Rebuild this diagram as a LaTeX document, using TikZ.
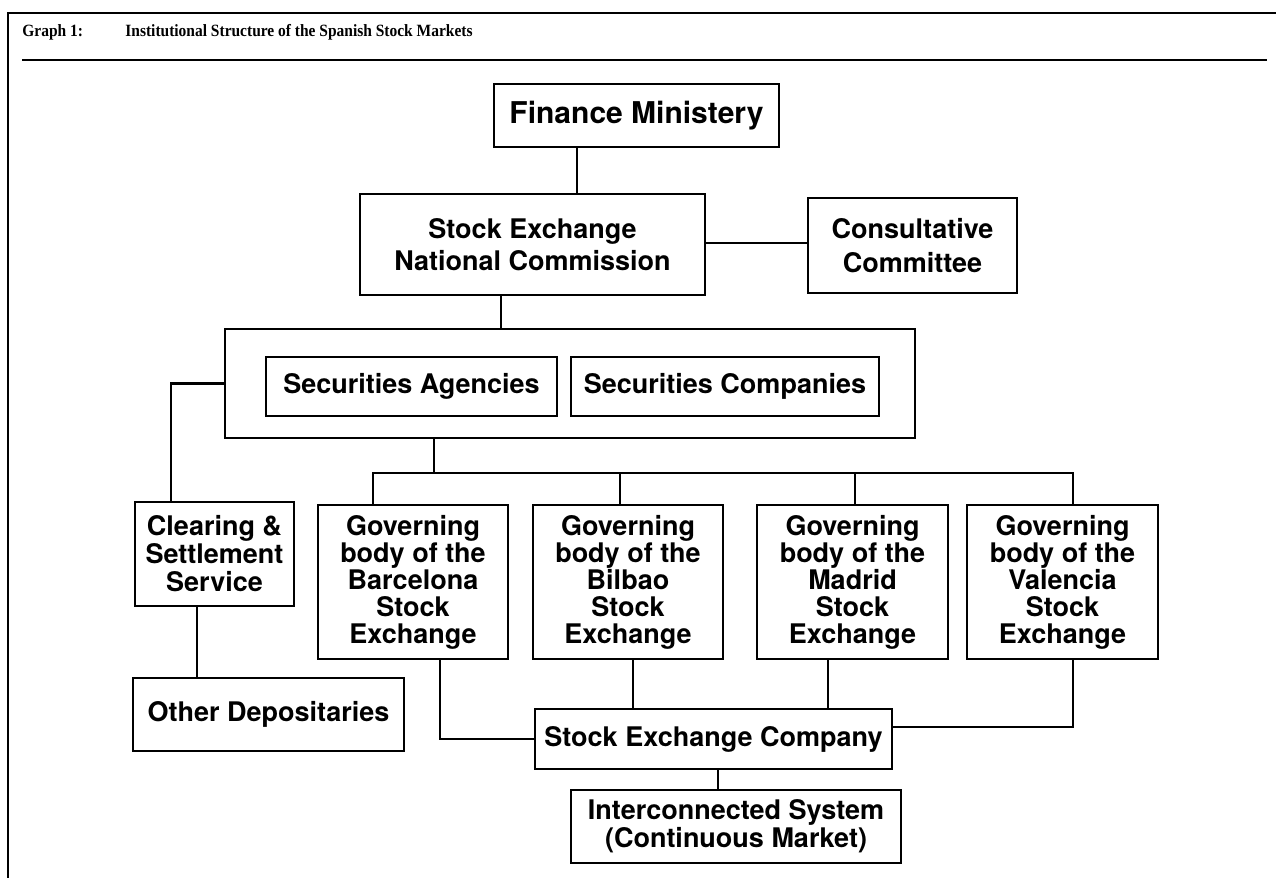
\documentclass[tikz,border=0pt]{standalone}
\usepackage{fontspec}
\setmainfont{Liberation Serif}
\setsansfont{TeX Gyre Heros}
\begin{document}
\begin{tikzpicture}[x=0.5pt,y=-0.5pt,
  box/.style={draw, line width=1.3pt, align=center, inner sep=0pt,
    font=\sffamily\bfseries\fontsize{13.5}{13.5}\selectfont},
  link/.style={line width=1.2pt}]
\useasboundingbox (0,0) rectangle (1276,878);
\path[draw,line width=1pt] (8,878) -- (8,13) -- (1276,13);
\path[draw,line width=1pt] (22,60) -- (1267,60);
\node[anchor=base west, inner sep=0pt, font=\bfseries\fontsize{8.6}{10}\selectfont] (gno) at (22,36) {\scalebox{0.9}[1]{Graph 1:}};
\node[anchor=base west, inner sep=0pt, font=\bfseries\fontsize{8.6}{10}\selectfont] (gtitle) at (125,36) {\scalebox{0.9}[1]{Institutional Structure of the Spanish Stock Markets}};

\node[box, minimum width=142.5pt, minimum height=31.5pt, font=\sffamily\bfseries\fontsize{15}{15}\selectfont] (fin) at (636.5,115.5) {Finance Ministery};
\node[box, minimum width=172.5pt, minimum height=50.5pt, font=\sffamily\bfseries\fontsize{13.5}{16}\selectfont] (cnmv) at (532.5,244.5) {Stock Exchange\\National Commission};
\node[box, minimum width=104.5pt, minimum height=47.5pt, font=\sffamily\bfseries\fontsize{13.5}{17}\selectfont] (cons) at (912.5,245.5) {Consultative\\Committee};
\node[box, minimum width=345pt, minimum height=54.5pt] (firms) at (570,383.5) {};
\node[box, minimum width=145.5pt, minimum height=29.5pt] (agen) at (411.5,386.5) {Securities Agencies};
\node[box, minimum width=154pt, minimum height=29.5pt] (comp) at (725,386.5) {Securities Companies};
\node[box, minimum width=79.5pt, minimum height=52pt, font=\sffamily\bfseries\fontsize{13.5}{14}\selectfont] (clr) at (214.5,554) {Clearing \&\\Settlement\\Service};
\node[box, minimum width=135.5pt, minimum height=36.5pt] (dep) at (268.5,714.5) {Other Depositaries};
\node[box, minimum width=95pt, minimum height=77pt] (bcn) at (413,582) {Governing\\body of the\\Barcelona\\Stock\\Exchange};
\node[box, minimum width=95pt, minimum height=77pt] (bio) at (628,582) {Governing\\body of the\\Bilbao\\Stock\\Exchange};
\node[box, minimum width=95.5pt, minimum height=77pt] (mad) at (852.5,582) {Governing\\body of the\\Madrid\\Stock\\Exchange};
\node[box, minimum width=95.5pt, minimum height=77pt] (vlc) at (1062.5,582) {Governing\\body of the\\Valencia\\Stock\\Exchange};
\node[box, minimum width=178.5pt, minimum height=30pt] (sbc) at (713.5,739) {Stock Exchange Company};
\node[box, minimum width=165pt, minimum height=36.5pt, font=\sffamily\bfseries\fontsize{13.5}{12.5}\selectfont] (sib) at (736,826.5) {Interconnected System\\(Continuous Market)};
\coordinate (bus) at (434,473);

\path[draw,link] ([xshift=-29.75pt]fin.south) -- ([xshift=-29.75pt]fin.south |- cnmv.north);
\path[draw,link] ([yshift=0.75pt]cnmv.east) -- ([yshift=0.75pt]cnmv.east -| cons.west);
\path[draw,link] ([xshift=-15.75pt]cnmv.south) -- ([xshift=-15.75pt]cnmv.south |- firms.north);
\path[draw,link] (firms.west) -| ([xshift=-21.75pt]clr.north);
\path[draw,link] ([xshift=-8.75pt]clr.south) -- ([xshift=-8.75pt]clr.south |- dep.north);
\path[draw,link] (firms.south -| bus) -- (bus);
\path[draw,link] (bus) -| ([xshift=-20pt]bcn.north);
\path[draw,link] (bus) -| ([xshift=-4pt]bio.north);
\path[draw,link] (bus) -| ([xshift=1.25pt]mad.north);
\path[draw,link] (bus) -| ([xshift=5.25pt]vlc.north);
\path[draw,link] ([xshift=13.5pt]bcn.south) |- (sbc.west);
\path[draw,link] ([xshift=2.5pt]bio.south) -- ([xshift=2.5pt]bio.south |- sbc.north);
\path[draw,link] ([xshift=-12.25pt]mad.south) -- ([xshift=-12.25pt]mad.south |- sbc.north);
\path[draw,link] ([xshift=5.25pt]vlc.south) |- ([yshift=6pt]sbc.east);
\path[draw,link] ([xshift=2.25pt]sbc.south) -- ([xshift=2.25pt]sbc.south |- sib.north);
\end{tikzpicture}
\end{document}
